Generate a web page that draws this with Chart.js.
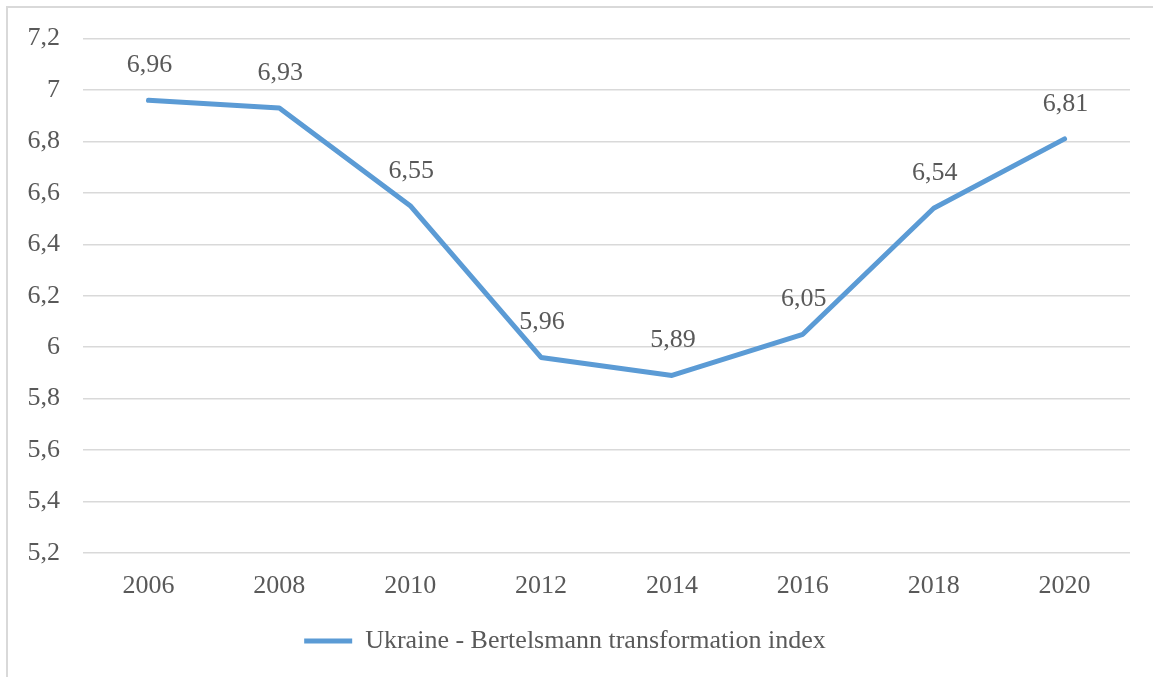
<!DOCTYPE html>
<html>
<head>
<meta charset="utf-8">
<script src="https://cdn.jsdelivr.net/npm/chart.js@4.4.0/dist/chart.umd.min.js"></script>
<style>
  html, body { margin: 0; padding: 0; background: #fff; overflow: hidden; }
  #frame {
    position: absolute; left: 6px; top: 6px;
    width: 1170px; height: 700px;
    border: 2px solid #d9d9d9;
  }
  #wrap { position: absolute; left: 0; top: 0; width: 1153px; height: 677px; }
</style>
</head>
<body>
<div id="frame"></div>
<div id="wrap"><canvas id="myChart"></canvas></div>
<script>
// Datos del gráfico
const years = ["2006", "2008", "2010", "2012", "2014", "2016", "2018", "2020"];
const btiValues = [6.96, 6.93, 6.55, 5.96, 5.89, 6.05, 6.54, 6.81];
const seriesName = "Ukraine - Bertelsmann transformation index";
const yTicks = [5.2, 5.4, 5.6, 5.8, 6, 6.2, 6.4, 6.6, 6.8, 7, 7.2];

const lineColor = "#5b9bd5";
const textColor = "#595959";
const fontFamily = "'Liberation Serif', 'Times New Roman', serif";
const fontSize = 26;

// formato con coma decimal
function fmt(v) {
  return String(Number(v.toFixed(2))).replace(".", ",");
}

// Plugin para las etiquetas de valor sobre la línea
const valueLabels = {
  id: "valueLabels",
  afterDatasetsDraw(chart) {
    const ctx = chart.ctx;
    const meta = chart.getDatasetMeta(0);
    ctx.save();
    ctx.font = fontSize + "px " + fontFamily;
    ctx.fillStyle = textColor;
    ctx.textAlign = "center";
    ctx.textBaseline = "middle";
    meta.data.forEach((pt, i) => {
      ctx.fillText(fmt(btiValues[i]), pt.x + 1, pt.y - 35);
    });
    ctx.restore();
  }
};

const config = {
  type: "line",
  data: {
    labels: years,
    datasets: [
      {
        label: seriesName,
        data: btiValues,
        borderColor: lineColor,
        backgroundColor: lineColor,
        borderWidth: 5,
        borderCapStyle: "round",
        borderJoinStyle: "round",
        pointRadius: 0,
        tension: 0
      }
    ]
  },
  options: {
    responsive: false,
    animation: false,
    layout: { padding: { top: 36, right: 23, left: 0, bottom: 13 } },
    plugins: {
      tooltip: { enabled: false },
      legend: {
        position: "bottom",
        labels: {
          color: textColor,
          font: { family: fontFamily, size: fontSize },
          boxWidth: 48,
          boxHeight: 5,
          padding: 8,
          generateLabels(chart) {
            return Chart.defaults.plugins.legend.labels.generateLabels(chart).map((l) => {
              l.lineWidth = 0;
              l.fillStyle = lineColor;
              return l;
            });
          }
        }
      }
    },
    scales: {
      x: {
        offset: true,
        grid: { display: false, drawTicks: false },
        border: { display: false },
        ticks: {
          color: textColor,
          font: { family: fontFamily, size: fontSize },
          padding: 18,
          maxRotation: 0
        }
      },
      y: {
        min: 5.2,
        max: 7.2,
        afterBuildTicks(scale) {
          scale.ticks = yTicks.map((v) => ({ value: v }));
        },
        afterFit(scale) {
          scale.width = 83;
        },
        grid: { color: "#d9d9d9", lineWidth: 1.5, drawTicks: false },
        border: { display: false },
        ticks: {
          color: textColor,
          font: { family: fontFamily, size: fontSize },
          padding: 23,
          callback: (v) => fmt(v)
        }
      }
    }
  },
  plugins: [valueLabels]
};

const myChart = document.getElementById("myChart");
myChart.width = 1153;
myChart.height = 677;
new Chart(myChart, config);
</script>
</body>
</html>
